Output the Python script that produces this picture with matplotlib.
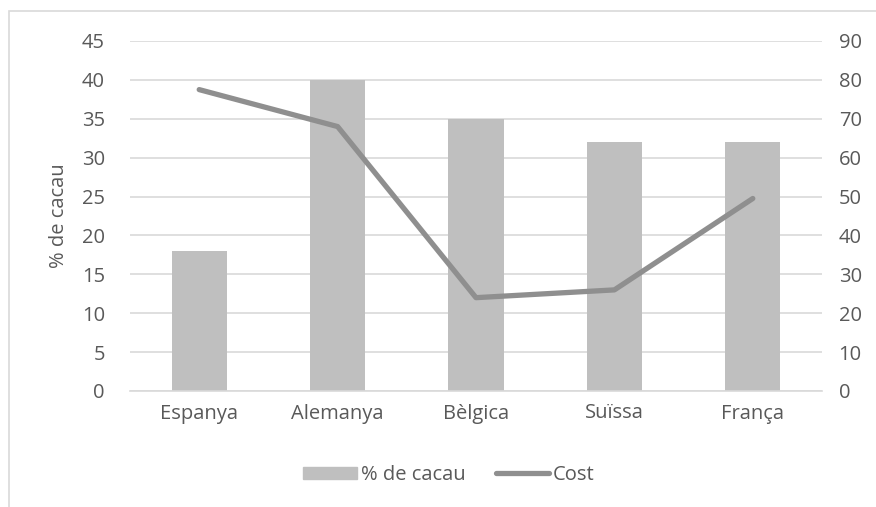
import matplotlib
matplotlib.use('Agg')
import numpy as np
from matplotlib import pyplot as plt
from matplotlib.patches import Rectangle
from matplotlib.lines import Line2D

countries = ['Espanya', 'Alemanya', 'Bèlgica', 'Suïssa', 'França']
cacau = [18, 40, 35, 32, 32]
cost = [77.5, 68, 24, 26, 49.5]

BAR = '#bfbfbf'
LINE = '#8f8f8f'
TXT = '#595959'
GRID = '#d9d9d9'

plt.rcParams['font.family'] = ['Open Sans', 'DejaVu Sans']
FS = 14.5

W, H = 876, 507
fig = plt.figure(figsize=(W / 100, H / 100), dpi=100)
ax1 = fig.add_axes([130 / W, 1 - 391 / H, (822 - 130) / W, (391 - 41) / H])

x = np.arange(len(countries))
ax1.bar(x, cacau, width=0.4, color=BAR, zorder=2)
ax1.set_xlim(-0.5, len(countries) - 0.5)
ax1.set_ylim(0, 45)
ax1.set_yticks(range(0, 46, 5))
ax1.set_xticks(x)
ax1.set_xticklabels(countries)
ax1.grid(axis='y', color=GRID, linewidth=1.2, zorder=0)
ax1.set_ylabel('% de cacau', color=TXT, fontsize=FS, labelpad=9)
for s in ['top', 'right', 'left']:
    ax1.spines[s].set_visible(False)
ax1.spines['bottom'].set_color(GRID)
ax1.spines['bottom'].set_linewidth(1.2)
ax1.tick_params(length=0, colors=TXT, labelsize=FS)
ax1.tick_params(axis='x', pad=9)
ax1.tick_params(axis='y', pad=18)

ax2 = ax1.twinx()
ax2.plot(x, cost, color=LINE, linewidth=3.8, solid_capstyle='round', zorder=3)
ax2.set_ylim(0, 90)
ax2.set_yticks(range(0, 91, 10))
ax2.tick_params(length=0, colors=TXT, labelsize=FS, pad=12)
for s in ax2.spines.values():
    s.set_visible(False)

handles = [Rectangle((0, 0), 1, 1, color=BAR),
           Line2D([0], [0], color=LINE, linewidth=3.8, solid_capstyle='round')]
fig.legend(handles, ['% de cacau', 'Cost'], loc='center', bbox_to_anchor=(449 / W, 1 - 475 / H),
           ncol=2, frameon=False, labelcolor=TXT, fontsize=FS, handlelength=2.65,
           handletextpad=0.2, columnspacing=1.5, handleheight=0.55)

# chart border
fig.patches.append(Rectangle((9 / W, -0.1), 1.2, 1 - 11 / H + 0.1, transform=fig.transFigure,
                             fill=False, edgecolor=GRID, linewidth=1.2))

fig.savefig('out.png', dpi=100)
